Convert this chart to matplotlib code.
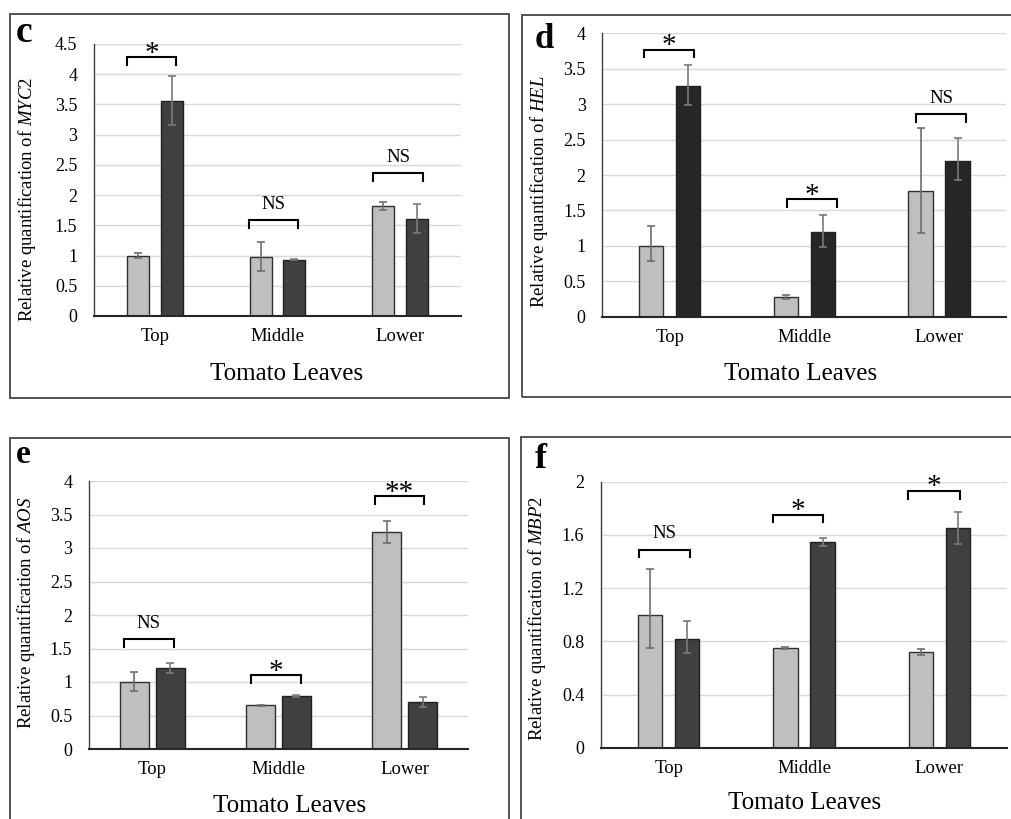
import matplotlib
matplotlib.use("Agg")
import matplotlib.pyplot as plt
from matplotlib.patches import Rectangle
import numpy as np

plt.rcParams['font.family'] = ['Liberation Serif', 'DejaVu Serif']
plt.rcParams['mathtext.fontset'] = 'custom'
plt.rcParams['mathtext.rm'] = 'Liberation Serif'
plt.rcParams['mathtext.it'] = 'Liberation Serif:italic'

W, H = 1011, 819

# ---------------- data ----------------
categories = ['Top', 'Middle', 'Lower']
xlabel_text = 'Tomato Leaves'

# panel c (MYC2)
c_light = [1.00, 0.98, 1.82]
c_light_lo = [0.04, 0.23, 0.07]
c_light_hi = [0.04, 0.25, 0.07]
c_dark = [3.55, 0.93, 1.60]
c_dark_lo = [0.39, 0.01, 0.22]
c_dark_hi = [0.42, 0.01, 0.26]
c_sig = ['*', 'NS', 'NS']
c_sig_y = [4.28, 1.58, 2.36]
c_yticks = [0, 0.5, 1, 1.5, 2, 2.5, 3, 3.5, 4, 4.5]

# panel d (HEL)
d_light = [1.00, 0.28, 1.77]
d_light_lo = [0.22, 0.03, 0.59]
d_light_hi = [0.28, 0.03, 0.90]
d_dark = [3.26, 1.19, 2.20]
d_dark_lo = [0.27, 0.21, 0.27]
d_dark_hi = [0.29, 0.25, 0.32]
d_sig = ['*', '*', 'NS']
d_sig_y = [3.77, 1.66, 2.86]
d_yticks = [0, 0.5, 1, 1.5, 2, 2.5, 3, 3.5, 4]

# panel e (AOS)
e_light = [1.00, 0.65, 3.24]
e_light_lo = [0.14, 0.01, 0.16]
e_light_hi = [0.15, 0.01, 0.17]
e_dark = [1.21, 0.79, 0.70]
e_dark_lo = [0.08, 0.02, 0.08]
e_dark_hi = [0.08, 0.02, 0.08]
e_sig = ['NS', '*', '**']
e_sig_y = [1.64, 1.10, 3.77]
e_yticks = [0, 0.5, 1, 1.5, 2, 2.5, 3, 3.5, 4]

# panel f (MBP2)
f_light = [1.00, 0.75, 0.72]
f_light_lo = [0.25, 0.01, 0.025]
f_light_hi = [0.34, 0.01, 0.025]
f_dark = [0.82, 1.55, 1.65]
f_dark_lo = [0.11, 0.03, 0.12]
f_dark_hi = [0.135, 0.03, 0.12]
f_sig = ['NS', '*', '*']
f_sig_y = [1.49, 1.75, 1.93]
f_yticks = [0, 0.4, 0.8, 1.2, 1.6, 2]

# ---------------- layout / style ----------------
panels = [
    dict(letter='c', gene=r'$\mathit{MYC}$2', light=c_light, llo=c_light_lo, lhi=c_light_hi,
         dark=c_dark, dlo=c_dark_lo, dhi=c_dark_hi, sig=c_sig, sig_y=c_sig_y, yticks=c_yticks,
         ax_px=(94, 461, 44, 316), box=(10, 508.7, 14, 398.3), dark_col='#404040',
         width=0.18, off=0.137, leg_px=8,
         br=[(-0.23, 0.17), (-0.23, 0.17), (-0.22, 0.19)],
         letter_px=(16, 41.7), letter_size=27, ylab_px=(26.7, 199.5), xlab_px=(286.5, 380)),
    dict(letter='d', gene=r'$\mathit{HEL}$', light=d_light, llo=d_light_lo, lhi=d_light_hi,
         dark=d_dark, dlo=d_dark_lo, dhi=d_dark_hi, sig=d_sig, sig_y=d_sig_y, yticks=d_yticks,
         ax_px=(602.3, 1006.4, 33.3, 316.7), box=(521.7, 1030, 15, 396.7), dark_col='#262626',
         width=0.18, off=0.137, leg_px=7.5,
         br=[(-0.19, 0.18), (-0.13, 0.24), (-0.17, 0.20)],
         letter_px=(535, 48.3), letter_size=25, ylab_px=(539, 191.5), xlab_px=(800.8, 380)),
    dict(letter='e', gene=r'$\mathit{AOS}$', light=e_light, llo=e_light_lo, lhi=e_light_hi,
         dark=e_dark, dlo=e_dark_lo, dhi=e_dark_hi, sig=e_sig, sig_y=e_sig_y, yticks=e_yticks,
         ax_px=(89, 468, 481, 749), box=(10, 509, 438.3, 840), dark_col='#404040',
         width=0.23, off=0.142, leg_px=7.5,
         br=[(-0.225, 0.17), (-0.22, 0.18), (-0.24, 0.155)],
         letter_px=(16, 463.3), letter_size=24, ylab_px=(26, 613), xlab_px=(289.7, 811.7)),
    dict(letter='f', gene=r'$\mathit{MBP2}$', light=f_light, llo=f_light_lo, lhi=f_light_hi,
         dark=f_dark, dlo=f_dark_lo, dhi=f_dark_hi, sig=f_sig, sig_y=f_sig_y, yticks=f_yticks,
         ax_px=(601, 1007, 481.7, 747.7), box=(521, 1030, 437.3, 840), dark_col='#404040',
         width=0.18, off=0.137, leg_px=7.5,
         br=[(-0.216, 0.16), (-0.23, 0.14), (-0.23, 0.15)],
         letter_px=(535, 468.3), letter_size=26, ylab_px=(536.5, 618), xlab_px=(804.7, 809.3)),
]

fig = plt.figure(figsize=(W / 100, H / 100), dpi=100)

for p in panels:
    l, r, t, b = p['ax_px']
    ax = fig.add_axes([l / W, 1 - b / H, (r - l) / W, (b - t) / H])
    x = np.arange(len(categories))
    w = p['width']
    ax.bar(x - p['off'], p['light'], width=w, color='#bfbfbf', edgecolor='#303030', linewidth=1.0, zorder=2)
    ax.bar(x + p['off'], p['dark'], width=w, color=p['dark_col'], edgecolor='#202020', linewidth=1.0, zorder=2)
    ax.errorbar(x - p['off'], p['light'], yerr=[p['llo'], p['lhi']], fmt='none', ecolor='#6e6e6e',
                elinewidth=1.2, capsize=3, capthick=1.2, zorder=3)
    ax.errorbar(x + p['off'], p['dark'], yerr=[p['dlo'], p['dhi']], fmt='none', ecolor='#7a7a7a',
                elinewidth=1.2, capsize=3, capthick=1.2, zorder=3)

    yt = p['yticks']
    ax.set_xlim(-0.5, len(categories) - 0.5)
    ax.set_ylim(0, yt[-1])
    ax.set_yticks(yt)
    ax.set_yticklabels(['{:g}'.format(v) for v in yt])
    ax.set_xticks(x)
    ax.set_xticklabels(categories)
    ax.tick_params(axis='y', length=0, pad=12, labelsize=13)
    ax.tick_params(axis='x', length=0, pad=9, labelsize=13.5)
    ax.yaxis.grid(True, color='#d9d9d9', linewidth=1.0)
    ax.set_axisbelow(True)
    for s in ['top', 'right']:
        ax.spines[s].set_visible(False)
    ax.spines['left'].set_color('#404040')
    ax.spines['left'].set_linewidth(1.0)
    ax.spines['bottom'].set_color('#262626')
    ax.spines['bottom'].set_linewidth(1.5)
    ax.spines['bottom'].set_zorder(4)

    # significance brackets
    units_per_px = yt[-1] / (b - t)
    leg = p['leg_px'] * units_per_px
    for i, (lab, yb) in enumerate(zip(p['sig'], p['sig_y'])):
        x0 = x[i] + p['br'][i][0]
        x1 = x[i] + p['br'][i][1]
        ax.plot([x0, x0, x1, x1], [yb - leg, yb, yb, yb - leg], color='black', lw=1.5,
                clip_on=False, zorder=5, solid_joinstyle='miter')
        if lab == 'NS':
            ax.annotate(lab, ((x0 + x1) / 2, yb), xytext=(0, 8), textcoords='offset points',
                        ha='center', va='baseline', fontsize=13.5, annotation_clip=False)
        else:
            ax.annotate(lab, ((x0 + x1) / 2, yb), xytext=(0, -2.5), textcoords='offset points',
                        ha='center', va='baseline', fontsize=21, annotation_clip=False)

    # labels
    lx, ly = p['letter_px']
    fig.text(lx / W, 1 - ly / H, p['letter'], fontsize=p['letter_size'], fontweight='bold',
             ha='left', va='baseline')
    yx, yy = p['ylab_px']
    fig.text(yx / W, 1 - yy / H, 'Relative quantification of ' + p['gene'], rotation=90,
             ha='center', va='center', fontsize=13.5)
    xx, xy = p['xlab_px']
    fig.text(xx / W, 1 - xy / H, xlabel_text, ha='center', va='baseline', fontsize=18)

    bx0, bx1, by0, by1 = p['box']
    fig.patches.append(Rectangle((bx0 / W, 1 - by1 / H), (bx1 - bx0) / W, (by1 - by0) / H,
                                 transform=fig.transFigure, fill=False, edgecolor='#454545',
                                 linewidth=1.3, zorder=0))

fig.savefig('out.png', dpi=100)
